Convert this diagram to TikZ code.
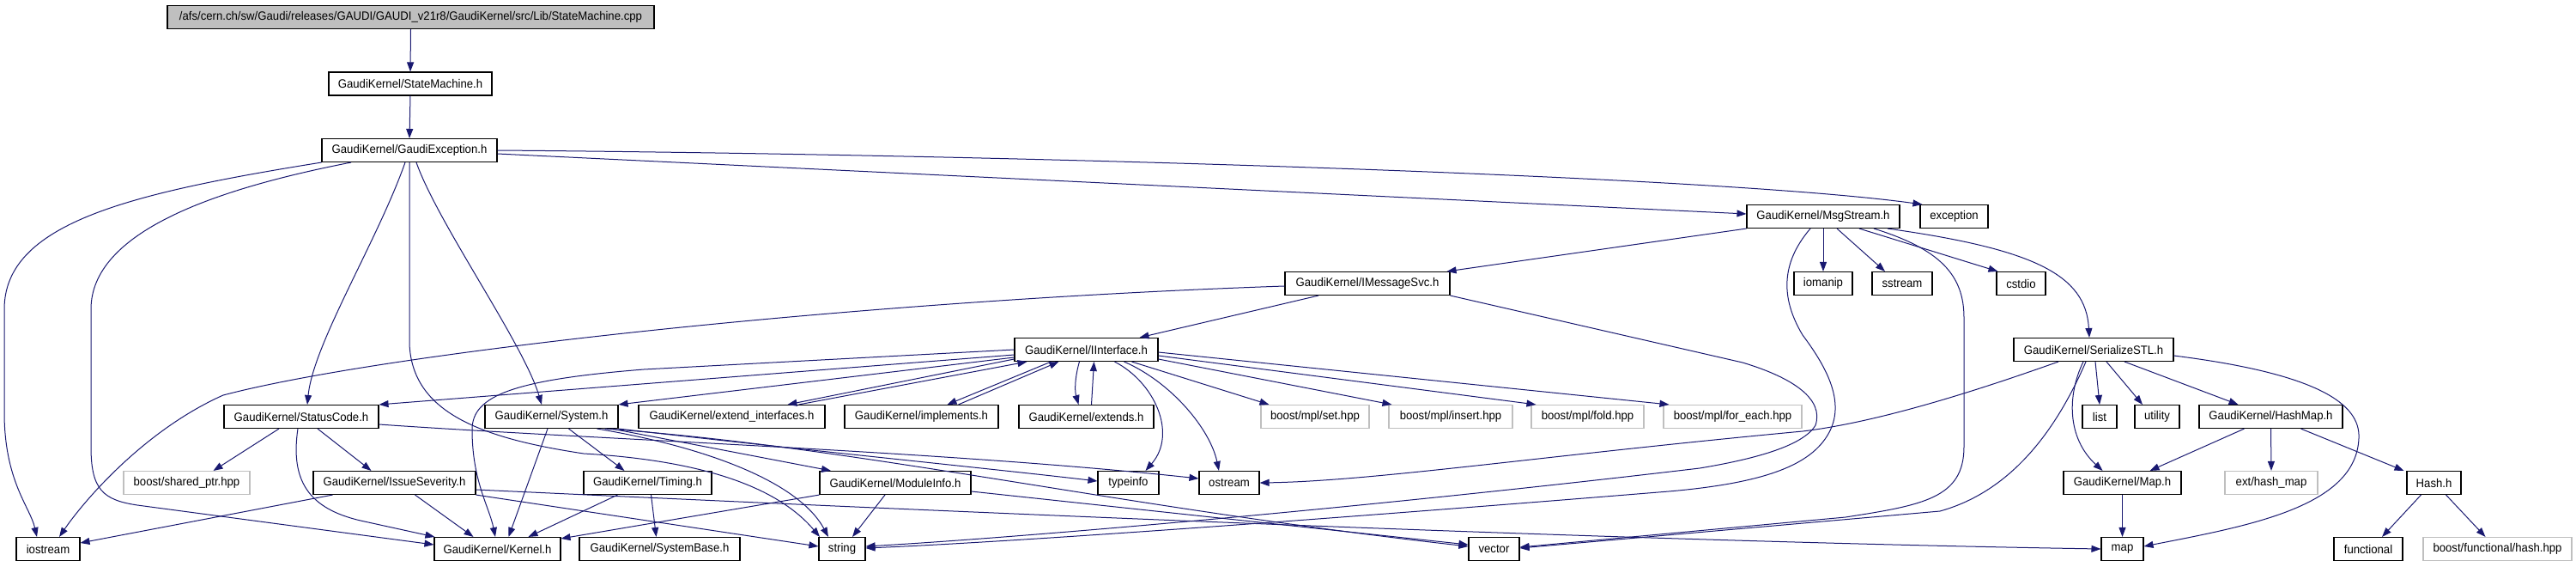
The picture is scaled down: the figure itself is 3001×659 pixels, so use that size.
\documentclass[tikz,border=0pt]{standalone}
\usepackage{fontspec}
\newfontfamily\gfont{Liberation Sans}[FakeStretch=0.94]
\usetikzlibrary{arrows.meta}
\definecolor{ecol}{HTML}{191970}
\definecolor{gline}{HTML}{BFBFBF}
\tikzset{
 box/.style={draw=black, line width=1.1pt, inner sep=0pt, minimum height=27pt, text=black, font=\gfont\fontsize{14pt}{16pt}\selectfont},
 gbox/.style={box, draw=gline},
 e/.style={draw=ecol, line width=1pt, -{Triangle[length=11pt,width=8pt]}},
}
\begin{document}
\begin{tikzpicture}[x=1pt,y=-1pt]
\useasboundingbox (0,0) rectangle (3001,659);
% row 0-2
\node[box, fill=gline, minimum width=567pt] (root) at (478.5,20) {/afs/cern.ch/sw/Gaudi/releases/GAUDI/GAUDI\_v21r8/GaudiKernel/src/Lib/StateMachine.cpp};
\node[box, minimum width=190pt] (sm) at (478,97.5) {GaudiKernel/StateMachine.h};
\node[box, minimum width=204pt] (ge) at (477,175) {GaudiKernel/GaudiException.h};
% row 3
\node[box, minimum width=178pt] (msg) at (2124,252) {GaudiKernel/MsgStream.h};
\node[box, minimum width=79pt] (exc) at (2276.5,252) {exception};
% row 4
\node[box, minimum width=192pt] (ims) at (1593,330) {GaudiKernel/IMessageSvc.h};
\node[box, minimum width=68pt] (iomanip) at (2124,330) {iomanip};
\node[box, minimum width=70pt] (sstream) at (2216,330) {sstream};
\node[box, minimum width=57pt] (cstdio) at (2354.5,330) {cstdio};
% row 5
\node[box, minimum width=167pt] (ii) at (1265.5,407) {GaudiKernel/IInterface.h};
\node[box, minimum width=186pt] (ser) at (2439,407) {GaudiKernel/SerializeSTL.h};
% row 6
\node[box, minimum width=180pt] (sc) at (351,485) {GaudiKernel/StatusCode.h};
\node[box, minimum width=155pt] (sys) at (642.5,485) {GaudiKernel/System.h};
\node[box, minimum width=217pt] (extif) at (852.5,485) {GaudiKernel/extend\_interfaces.h};
\node[box, minimum width=179pt] (impl) at (1073.5,485) {GaudiKernel/implements.h};
\node[box, minimum width=157pt] (extends) at (1265.5,485) {GaudiKernel/extends.h};
\node[gbox, minimum width=126pt] (mplset) at (1532,485) {boost/mpl/set.hpp};
\node[gbox, minimum width=144pt] (mplins) at (1690,485) {boost/mpl/insert.hpp};
\node[gbox, minimum width=131pt] (mplfold) at (1849.5,485) {boost/mpl/fold.hpp};
\node[gbox, minimum width=161pt] (mplfe) at (2018.5,485) {boost/mpl/for\_each.hpp};
\node[box, minimum width=40pt] (list) at (2446,485) {list};
\node[box, minimum width=52pt] (utility) at (2513,485) {utility};
\node[box, minimum width=167pt] (hashmap) at (2645.5,485) {GaudiKernel/HashMap.h};
% row 7
\node[gbox, minimum width=147pt] (sptr) at (217.5,562) {boost/shared\_ptr.hpp};
\node[box, minimum width=189pt] (isev) at (459.5,562) {GaudiKernel/IssueSeverity.h};
\node[box, minimum width=149pt] (timing) at (754.5,562) {GaudiKernel/Timing.h};
\node[box, minimum width=176pt] (modinfo) at (1043,562) {GaudiKernel/ModuleInfo.h};
\node[box, minimum width=71pt] (typeinfo) at (1314.5,562) {typeinfo};
\node[box, minimum width=70pt] (ostream) at (1432,562) {ostream};
\node[box, minimum width=137pt] (maph) at (2472.5,562) {GaudiKernel/Map.h};
\node[gbox, minimum width=108pt] (hmext) at (2646,562) {ext/hash\_map};
\node[box, minimum width=63pt] (hash) at (2835.5,562) {Hash.h};
% row 8
\node[box, minimum width=74pt] (iostream) at (56,639) {iostream};
\node[box, minimum width=147pt] (kernel) at (579.5,639) {GaudiKernel/Kernel.h};
\node[box, minimum width=187pt] (sysbase) at (768.5,639) {GaudiKernel/SystemBase.h};
\node[box, minimum width=54pt] (string) at (981,639) {string};
\node[box, minimum width=59pt] (vector) at (1740.5,639) {vector};
\node[box, minimum width=49pt] (map) at (2472.5,639) {map};
\node[box, minimum width=80pt] (functional) at (2759,639) {functional};
\node[gbox, minimum width=173pt] (bfh) at (2909.5,639) {boost/functional/hash.hpp};

% top chain
\draw[e] (root.south) -- (sm.north);
\draw[e] (sm.south) -- (ge.north);
% GaudiException
\draw[e] (ge.south west) .. controls (150,225) and (5,260) .. (5,360) -- (5,480) .. controls (5,560) and (35,590) .. ([xshift=-13pt]iostream.north);
\draw[e] ([xshift=-68pt]ge.south) .. controls (250,220) and (106,270) .. (106,360) -- (106,520) .. controls (106,570) and (120,582) .. (160,588) -- ([yshift=5pt]kernel.west);
\draw[e] ([xshift=-5pt]ge.south) .. controls (440,280) and (365,400) .. ([xshift=7pt]sc.north);
\draw[e] (ge.south) -- (477,400) .. controls (480,480) and (560,510) .. (680,528) .. controls (800,535) and (900,560) .. ([xshift=-26pt]string.north);
\draw[e] ([xshift=8pt]ge.south) .. controls (510,260) and (610,400) .. ([xshift=-11.5pt]sys.north);
\draw[e] ([yshift=-4pt]ge.east) -- ([yshift=3pt]msg.west);
\draw[e] (ge.east) .. controls (1200,180) and (2000,205) .. ([xshift=3pt]exc.north west);
% MsgStream
\draw[e] (msg.south west) -- ([xshift=-4pt]ims.north east);
\draw[e] (msg.south) -- (iomanip.north);
\draw[e] ([xshift=16pt]msg.south) -- ([xshift=-20pt]sstream.north);
\draw[e] ([xshift=42pt]msg.south) -- ([xshift=2pt]cstdio.north west);
\draw[e] ([xshift=75pt]msg.south) .. controls (2370,290) and (2430,320) .. ([xshift=-5pt]ser.north);
\draw[e] ([xshift=59pt]msg.south) .. controls (2260,290) and (2288,320) .. (2288,370) -- (2288,520) .. controls (2288,580) and (2240,588) .. (2150,602) -- ([yshift=2pt]vector.east);
\draw[e] ([xshift=-15pt]msg.south) .. controls (2080,300) and (2070,340) .. (2100,390) .. controls (2130,430) and (2150,470) .. (2130,505) .. controls (2110,540) and (2060,562) .. (1944,572) .. controls (1600,600) and (1200,630) .. ([yshift=1pt]string.east);
% IMessageSvc
\draw[e] ([xshift=-57pt]ims.south) -- ([xshift=62pt]ii.north);
\draw[e] ([yshift=-3pt]ims.west) .. controls (1000,350) and (450,410) .. (260,460) .. controls (170,500) and (100,580) .. ([xshift=13pt]iostream.north);
\draw[e] (ims.south east) -- (2030,422) .. controls (2090,440) and (2125,465) .. (2115,495) .. controls (2100,520) and (2040,535) .. (1980,545) .. controls (1600,590) and (1200,625) .. ([yshift=3pt]string.east);
% IInterface
\draw[e] (ii.west) -- (750,430) .. controls (600,442) and (550,460) .. (550,500) .. controls (550,560) and (570,590) .. ([xshift=-2.5pt]kernel.north);
\draw[e] ([yshift=-6pt]ii.west) -- (sc.north east);
\draw[e] ([yshift=-9pt]ii.west) -- (sys.north east);
\draw[e] ([yshift=-11pt]ii.west) -- ([xshift=65pt]extif.north);
\draw[e] ([xshift=78pt]extif.north) -- ([xshift=15pt]ii.south west);
\draw[e] ([xshift=43pt]ii.south west) -- ([xshift=30pt]impl.north);
\draw[e] ([xshift=43pt]impl.north) -- ([xshift=52pt]ii.south west);
\draw[e] ([xshift=76pt]ii.south west) .. controls (1252,440) and (1252,455) .. ([xshift=-9pt]extends.north);
\draw[e] ([xshift=6pt]extends.north) -- ([xshift=9pt]ii.south);
\draw[e] ([xshift=53pt]ii.south) -- ([xshift=10pt]mplset.north west);
\draw[e] ([yshift=-11pt]ii.east) -- ([xshift=4pt]mplins.north west);
\draw[e] ([yshift=-7pt]ii.east) -- ([xshift=6pt]mplfold.north west);
\draw[e] ([yshift=-3pt]ii.east) -- ([xshift=7pt]mplfe.north west);
\draw[e] ([xshift=33pt]ii.south) .. controls (1345,445) and (1372,505) .. ([xshift=20pt]typeinfo.north);
\draw[e] ([xshift=44pt]ii.south) .. controls (1365,445) and (1410,500) .. ([xshift=-12pt]ostream.north);
% System
\draw[e] (sys.south east) .. controls (900,520) and (1150,545) .. ([yshift=2pt]typeinfo.west);
\draw[e] ([xshift=-8pt]sys.south east) -- ([xshift=-75pt]modinfo.north);
\draw[e] ([xshift=-16pt]sys.south east) .. controls (1000,520) and (1300,590) .. ([yshift=3pt]vector.west);
\draw[e] ([xshift=-25pt]sys.south east) .. controls (820,520) and (930,560) .. ([xshift=-16pt]string.north);
\draw[e] ([xshift=-4.5pt]sys.south) -- ([xshift=13pt]kernel.north);
\draw[e] ([xshift=20pt]sys.south) -- ([xshift=-27pt]timing.north);
% StatusCode
\draw[e] ([xshift=-26pt]sc.south) -- ([xshift=31pt]sptr.north);
\draw[e] ([xshift=19pt]sc.south) -- ([xshift=-27pt]isev.north);
\draw[e] ([xshift=-4pt]sc.south) .. controls (338,560) and (360,592) .. (420,606) -- ([xshift=1pt]kernel.north west);
\draw[e] ([yshift=-9pt]sc.east) .. controls (700,512) and (1100,525) .. ([yshift=5pt]ostream.west);
% IssueSeverity
\draw[e] ([xshift=-72pt]isev.south) -- ([yshift=7pt]iostream.east);
\draw[e] ([xshift=24pt]isev.south) -- ([xshift=-28pt]kernel.north);
\draw[e] (isev.south east) -- ([yshift=3pt]string.west);
\draw[e] ([yshift=-8pt]isev.east) .. controls (1200,600) and (1900,630) .. (map.west);
% Timing
\draw[e] ([xshift=-35pt]timing.south) -- ([xshift=36pt]kernel.north);
\draw[e] ([xshift=4pt]timing.south) -- ([xshift=-4pt]sysbase.north);
% ModuleInfo
\draw[e] (modinfo.south west) -- ([yshift=-2pt]kernel.north east);
\draw[e] ([xshift=-12pt]modinfo.south) -- ([xshift=12pt]string.north);
\draw[e] ([yshift=-10pt]modinfo.east) -- ([yshift=5pt]vector.west);
% SerializeSTL
\draw[e] ([xshift=-41pt]ser.south) .. controls (2330,445) and (2200,490) .. (2100,502) .. controls (1800,530) and (1600,560) .. (ostream.east);
\draw[e] ([xshift=-9pt]ser.south) .. controls (2400,490) and (2350,570) .. (2260,595) -- ([yshift=1pt]vector.east);
\draw[e] ([xshift=2pt]ser.south) -- (list.north);
\draw[e] ([xshift=15pt]ser.south) -- ([xshift=-17pt]utility.north);
\draw[e] ([xshift=36pt]ser.south) -- ([xshift=-38pt]hashmap.north);
\draw[e] ([xshift=-12pt]ser.south) .. controls (2408,460) and (2408,510) .. ([xshift=-23pt]maph.north);
\draw[e] ([yshift=-7pt]ser.east) .. controls (2700,435) and (2750,470) .. (2748,510) .. controls (2745,590) and (2620,612) .. ([yshift=3pt]map.east);
% HashMap, Map, Hash
\draw[e] ([xshift=-31pt]hashmap.south) -- ([xshift=32pt]maph.north);
\draw[e] (hashmap.south) -- (hmext.north);
\draw[e] ([xshift=35pt]hashmap.south) -- ([xshift=-35pt]hash.north);
\draw[e] (maph.south) -- (map.north);
\draw[e] ([xshift=-15pt]hash.south) -- ([xshift=16pt]functional.north);
\draw[e] ([xshift=14pt]hash.south) -- ([xshift=-14pt]bfh.north);
\end{tikzpicture}
\end{document}
